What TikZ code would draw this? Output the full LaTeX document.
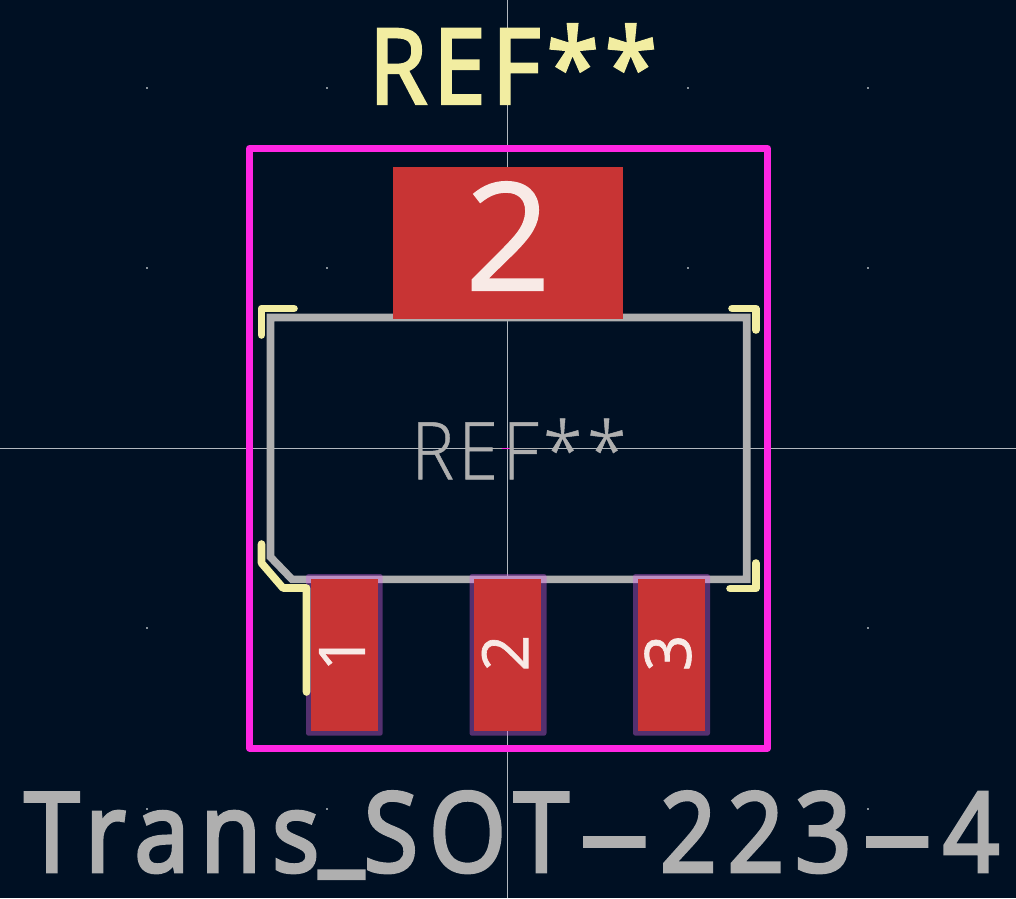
\documentclass[tikz,border=0pt]{standalone}
\usepackage{fontspec}
\newfontfamily\strokefont[FakeBold=3,LetterSpace=7]{Open Sans}
\newfontfamily\valuefont[FakeBold=3.4,LetterSpace=11]{Open Sans}
\newfontfamily\thinfont[FakeBold=.6,LetterSpace=6]{Open Sans Light}
\newfontfamily\padfont[FakeBold=1]{Open Sans}
\definecolor{boardbg}{RGB}{0,16,35}
\definecolor{crtyd}{RGB}{255,38,226}
\definecolor{fabgray}{RGB}{175,175,175}
\definecolor{silk}{RGB}{242,237,161}
\definecolor{padred}{RGB}{200,52,52}
\definecolor{maskcol}{RGB}{210,96,225}
\definecolor{padtext}{RGB}{248,234,230}
\definecolor{crosshair}{RGB}{178,184,190}
\newcommand{\wideminus}{\kern10pt\scalebox{2.3}[1]{-}\kern10pt}
\tikzset{
  silkline/.style={draw=silk,line width=7.6pt,line cap=round,line join=round},
  fabline/.style={draw=fabgray,line width=7.6pt,line join=miter},
  maskbox/.style={fill=maskcol,fill opacity=.4,draw=none,rounded corners=2.5pt},
  padbox/.style={fill=padred,draw=none},
  padnum/.style={text=padtext,inner sep=0pt,font=\padfont\fontsize{64}{64}\selectfont,rotate=90},
  gridmark/.style={fill=crosshair!75!boardbg,draw=none},
}
\begin{document}
\begin{tikzpicture}[x=1pt,y=-1pt]
\useasboundingbox (0,0) rectangle (1016,898);
\fill[boardbg] (0,0) rectangle (1016,898);
% grid marks
\foreach \px/\py in {147/88,327/88,688/88,868/88,147/268,327/268,688/268,868/268,147/628,868/628,147/809,327/809,868/809}
  \fill[gridmark] (\px-.8,\py-.8) rectangle (\px+.8,\py+.8);
% crosshair
\draw[crosshair,line width=1pt] (507.5,0) -- (507.5,898);
\draw[crosshair,line width=1pt] (0,448) -- (1016,448);
% fab outline
\draw[fabline] (270.5,557) |- (270.5,317.5) -| (746.7,579.3) -- (292,579.3) -- cycle;
% courtyard
\draw[crtyd,line width=7pt,line join=round] (249.5,148.5) rectangle (767.5,748);
% pads
\fill[maskbox] (306,574) rectangle (382.7,735.7);
\fill[maskbox] (469.5,574) rectangle (546.5,735.7);
\fill[maskbox] (633,574) rectangle (710,735.7);
\fill[padbox] (311,579) rectangle (378,731);
\fill[padbox] (474,579) rectangle (541,731);
\fill[padbox] (637.7,579) rectangle (705,731);
\fill[padbox] (393,167) rectangle (623,319);
% silk
\draw[silkline] (732,308.5) -- (755.7,308.5) -- (755.7,330);
\draw[silkline] (730,588.5) -- (755.7,588.5) -- (755.7,563);
\draw[silkline] (294,308.5) -- (261.5,308.5) -- (261.5,335);
\draw[silkline] (261.5,544) -- (261.5,563) -- (283,588) -- (306.5,588) -- (306.5,692);
% anchor of the centre text
\draw[fabgray,line width=1.5pt] (468,448.7) -- (548,448.7);
\draw[crtyd,line width=1.5pt] (502,448.7) -- (513,448.7);
% texts
\node[text=silk,inner sep=0pt] (refsilk) at (513,64)
  {\scalebox{.9}[1]{\strokefont\fontsize{104}{104}\selectfont REF**}};
\node[text=fabgray,inner sep=0pt] (reffab) at (519,449)
  {\scalebox{.9}[1]{\thinfont\fontsize{80}{80}\selectfont REF**}};
\node[text=fabgray,inner sep=0pt] (valuefab) at (512,835)
  {\scalebox{.9}[1]{\valuefont\fontsize{110}{110}\selectfont Trans\raisebox{10pt}{\_}SOT\wideminus 223\wideminus 4}};
\node[text=padtext,inner sep=0pt] (bignum) at (508,236)
  {\padfont\fontsize{150}{150}\selectfont 2};
\node[padnum] (numa) at (342,653) {1};
\node[padnum] (numb) at (505,653) {2};
\node[padnum] (numc) at (668,653) {3};
\end{tikzpicture}
\end{document}
